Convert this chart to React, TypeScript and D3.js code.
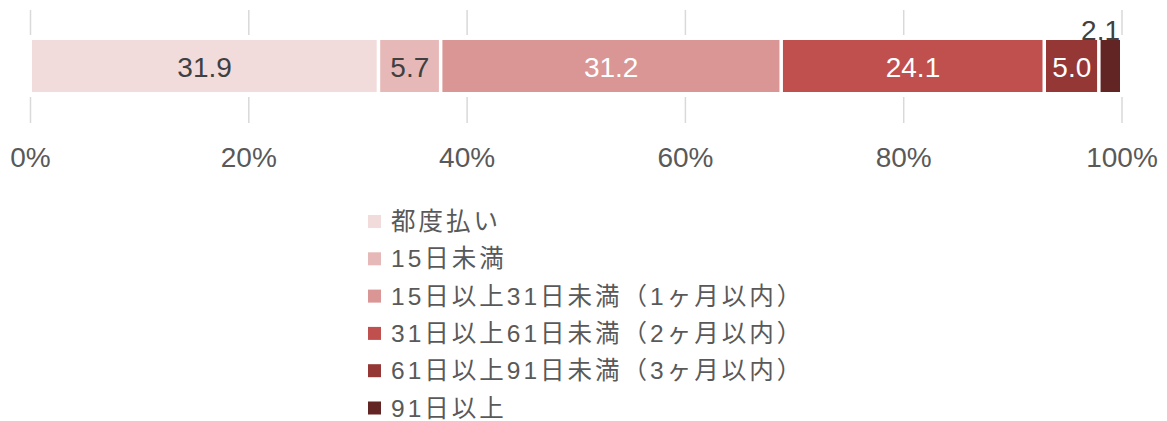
import React from "react";
import * as d3 from "d3";

const categories = [
  "都度払い",
  "15日未満",
  "15日以上31日未満（1ヶ月以内）",
  "31日以上61日未満（2ヶ月以内）",
  "61日以上91日未満（3ヶ月以内）",
  "91日以上",
];
const values = [31.9, 5.7, 31.2, 24.1, 5.0, 2.1];
const colors = ["#F2DCDB", "#E6B9B8", "#D99694", "#C0504D", "#953735", "#632523"];
const labelColors = ["#404040", "#404040", "#FFFFFF", "#FFFFFF", "#FFFFFF", "#404040"];
const tickValues = [0, 20, 40, 60, 80, 100];

const W = 1167;
const H = 421;

export default function App() {
  const x = d3.scaleLinear().domain([0, 100]).range([30.5, 1122]);
  const stacked = d3.cumsum(values);
  const segs = values.map((v, i) => ({
    v,
    start: i === 0 ? 0 : stacked[i - 1],
    end: stacked[i],
    color: colors[i],
    lc: labelColors[i],
  }));
  const barTop = 40;
  const barBottom = 92;
  const ly = d3.scaleLinear().domain([0, 5]).range([221.5, 408]);
  const numFont = "'Liberation Sans', Arial, sans-serif";
  const legFont = "'Liberation Sans', 'Noto Sans CJK JP', sans-serif";

  return (
    <svg
      width={W}
      height={H}
      style={{ position: "absolute", left: 0, top: 0, background: "#fff" }}
    >
      {tickValues.map((t) => (
        <line
          key={"g" + t}
          x1={x(t)}
          x2={x(t)}
          y1={10}
          y2={123}
          stroke="#D9D9D9"
          strokeWidth={1.5}
        />
      ))}
      <rect x={0} y={35} width={W} height={62} fill="#fff" />
      {segs.map((s, i) => (
        <rect
          key={"r" + i}
          x={x(s.start) + 1.5}
          y={barTop}
          width={x(s.end) - x(s.start) - 3.5}
          height={barBottom - barTop}
          fill={s.color}
        />
      ))}
      {segs.map((s, i) => {
        const small = s.v < 3;
        return (
          <text
            key={"l" + i}
            x={small ? x(s.end) - 2 : (x(s.start) + x(s.end)) / 2}
            y={small ? 40 : 77}
            textAnchor={small ? "end" : "middle"}
            fontFamily={numFont}
            fontSize={28}
            fill={s.lc}
          >
            {s.v.toFixed(1)}
          </text>
        );
      })}
      {tickValues.map((t) => (
        <text
          key={"t" + t}
          x={x(t)}
          y={167}
          textAnchor="middle"
          fontFamily={numFont}
          fontSize={28}
          fill="#595959"
        >
          {t + "%"}
        </text>
      ))}
      {categories.map((c, i) => (
        <g key={"lg" + i}>
          <rect x={368} y={ly(i) - 6.5} width={13} height={13} fill={colors[i]} />
          <text
            x={391}
            y={ly(i)}
            dominantBaseline="central"
            fontFamily={legFont}
            fontSize={24.5}
            letterSpacing={3}
            fill="#595959"
          >
            {c}
          </text>
        </g>
      ))}
    </svg>
  );
}
